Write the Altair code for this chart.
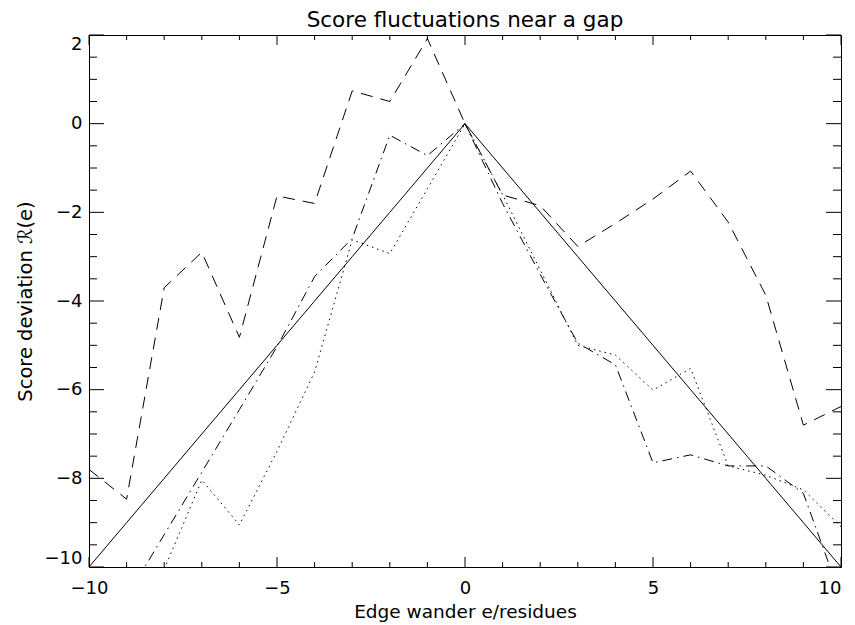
import altair as alt
import pandas as pd

# ---- data ----
x_vals = list(range(-10, 11))
solid = [-10, -9, -8, -7, -6, -5, -4, -3, -2, -1, 0, -1, -2, -3, -4, -5, -6, -7, -8, -9, -10]
dashed = [-7.8, -8.47, -3.7, -2.9, -4.82, -1.63, -1.8, 0.74, 0.5, 1.92, 0,
          -1.61, -1.85, -2.77, -2.25, -1.7, -1.07, -2.22, -3.87, -6.8, -6.38]
dashdot = [None, -10.68, -9.27, -7.86, -6.45, -5.03, -3.45, -2.59, -0.26, -0.72, 0,
           -1.8, -3.4, -4.95, -5.44, -7.65, -7.47, -7.72, -7.72, -8.34, -10.68]
dotted = [None, None, -10.05, -8.04, -9.05, -7.39, -5.6, -2.62, -2.93, -1.47, 0,
          -1.6, -3.3, -5.0, -5.22, -6.01, -5.52, -7.72, -7.93, -8.26, -9.09]

x_major = [-10, -5, 0, 5, 10]
x_minor = [-9, -8, -7, -6, -4, -3, -2, -1, 1, 2, 3, 4, 6, 7, 8, 9]
y_major = [-10, -8, -6, -4, -2, 0, 2]
y_minor = [-9.5, -9, -8.5, -7.5, -7, -6.5, -5.5, -5, -4.5, -3.5, -3, -2.5,
           -1.5, -1, -0.5, 0.5, 1, 1.5]

W, H = 752, 532
FONT = "DejaVu Sans"

xscale = alt.Scale(domain=[-10, 10], nice=False, zero=False)
yscale = alt.Scale(domain=[-10, 2], nice=False, zero=False)
xaxis = alt.Axis(title="Edge wander e/residues", values=x_major, labelFlush=False,
                 labelAlign={"expr": "datum.value == 10 ? 'right' : 'center'"},
                 titleFontSize=18.5)
yaxis = alt.Axis(title="Score deviation ℛ(e)", values=y_major, labelFlush=True,
                 titleFontSize=19.5)

series = {"solid": solid, "dashed": dashed, "dashdot": dashdot, "dotted": dotted}
dashes = {"dashed": [12, 8], "dashdot": [10, 5, 1.5, 5], "dotted": [1.5, 4]}

rows = []
for name, vals in series.items():
    for x, v in zip(x_vals, vals):
        if v is not None:
            rows.append({"x": x, "y": v, "s": name})
df = pd.DataFrame(rows)

layers = []
for name in series:
    kw = dict(color="black", strokeWidth=1, clip=True)
    if name in dashes:
        kw["strokeDash"] = dashes[name]
    mk = alt.Chart(df).transform_filter(alt.datum.s == name).mark_line(**kw).encode(
        x=alt.X("x:Q", scale=xscale, axis=xaxis),
        y=alt.Y("y:Q", scale=yscale, axis=yaxis),
    )
    layers.append(mk)

def xticks(vals, length):
    d = pd.DataFrame({"x": vals})
    b = alt.Chart(d).mark_rule(color="black", strokeWidth=1).encode(
        x=alt.X("x:Q", scale=xscale, axis=xaxis), y=alt.value(H), y2=alt.value(H - length))
    t = alt.Chart(d).mark_rule(color="black", strokeWidth=1).encode(
        x=alt.X("x:Q", scale=xscale, axis=xaxis), y=alt.value(0), y2=alt.value(length))
    return [b, t]

def yticks(vals, length):
    d = pd.DataFrame({"y": vals})
    l = alt.Chart(d).mark_rule(color="black", strokeWidth=1).encode(
        y=alt.Y("y:Q", scale=yscale, axis=yaxis), x=alt.value(0), x2=alt.value(length))
    r = alt.Chart(d).mark_rule(color="black", strokeWidth=1).encode(
        y=alt.Y("y:Q", scale=yscale, axis=yaxis), x=alt.value(W), x2=alt.value(W - length))
    return [l, r]

layers += xticks(x_major, 10) + xticks(x_minor, 5) + yticks(y_major, 15) + yticks(y_minor, 8)

chart = alt.layer(*layers).properties(
    width=W, height=H,
    title=alt.TitleParams("Score fluctuations near a gap", font=FONT, fontSize=21.5,
                          fontWeight="normal", color="black", anchor="middle", offset=3),
    padding={"left": 81, "top": 27, "right": 6, "bottom": 58},
    autosize=alt.AutoSizeParams(type="none"),
).configure_view(stroke="black", strokeWidth=1).configure_axis(
    domain=False, ticks=False, grid=False,
    labelFont=FONT, labelFontSize=18, labelColor="black",
    titleFont=FONT, titleFontWeight="normal", titleColor="black",
).configure_axisX(labelPadding=12, titlePadding=5).configure_axisY(
    labelPadding=7, titlePadding=9
)

chart.save("out.html", embed_options={"renderer": "svg", "actions": False})
